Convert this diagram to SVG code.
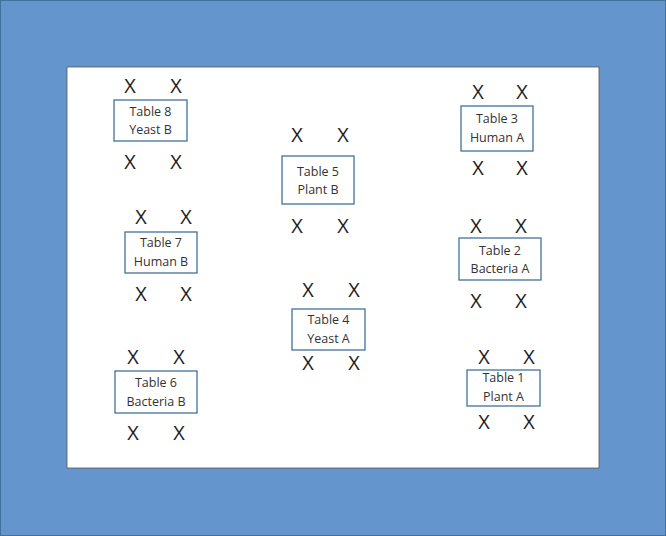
<svg xmlns="http://www.w3.org/2000/svg" width="666" height="536" viewBox="0 0 666 536">
<style>
.b{fill:#fff;stroke:#41719C;stroke-width:1.3}
.t{font-family:"Open Sans","Liberation Sans",sans-serif;font-size:12.5px;fill:#333;text-anchor:middle}
.x{font-family:"Open Sans","Liberation Sans",sans-serif;font-size:20px;fill:#222;text-anchor:middle}
</style>
<rect x="0.5" y="0.5" width="665" height="535" fill="#6495CD" stroke="#41719C"/>
<rect x="67" y="67" width="532" height="401" fill="#fff" stroke="#555" stroke-width="0.8"/>
<g id="table8"><rect class="b" x="114" y="100" width="73" height="41"/><text class="t" x="150.5" y="116">Table 8</text><text class="t" x="150.5" y="134">Yeast B</text>
<text class="x" x="130" y="93">X</text><text class="x" x="176" y="93">X</text><text class="x" x="130" y="169">X</text><text class="x" x="176" y="169">X</text></g>
<g id="table5"><rect class="b" x="282" y="156" width="72" height="48"/><text class="t" x="318" y="176">Table 5</text><text class="t" x="318" y="194">Plant B</text>
<text class="x" x="297" y="142">X</text><text class="x" x="343" y="142">X</text><text class="x" x="297" y="233">X</text><text class="x" x="343" y="233">X</text></g>
<g id="table3"><rect class="b" x="461" y="106" width="72" height="45"/><text class="t" x="497" y="123">Table 3</text><text class="t" x="497" y="142">Human A</text>
<text class="x" x="478" y="99">X</text><text class="x" x="522" y="99">X</text><text class="x" x="478" y="175">X</text><text class="x" x="522" y="175">X</text></g>
<g id="table7"><rect class="b" x="125" y="232" width="72" height="41"/><text class="t" x="161" y="247">Table 7</text><text class="t" x="161" y="266">Human B</text>
<text class="x" x="141" y="224">X</text><text class="x" x="186" y="224">X</text><text class="x" x="141" y="301">X</text><text class="x" x="186" y="301">X</text></g>
<g id="table2"><rect class="b" x="459" y="238" width="82" height="42"/><text class="t" x="500" y="255">Table 2</text><text class="t" x="500" y="273">Bacteria A</text>
<text class="x" x="476" y="233">X</text><text class="x" x="521" y="233">X</text><text class="x" x="476" y="308">X</text><text class="x" x="521" y="308">X</text></g>
<g id="table4"><rect class="b" x="292" y="309" width="73" height="41"/><text class="t" x="328.5" y="324">Table 4</text><text class="t" x="328.5" y="343">Yeast A</text>
<text class="x" x="308" y="297">X</text><text class="x" x="354" y="297">X</text><text class="x" x="308" y="370">X</text><text class="x" x="354" y="370">X</text></g>
<g id="table6"><rect class="b" x="115" y="371" width="82" height="42"/><text class="t" x="156" y="387">Table 6</text><text class="t" x="156" y="406">Bacteria B</text>
<text class="x" x="133" y="364">X</text><text class="x" x="179" y="364">X</text><text class="x" x="133" y="440">X</text><text class="x" x="179" y="440">X</text></g>
<g id="table1"><rect class="b" x="467" y="370" width="73" height="36"/><text class="t" x="503.5" y="382">Table 1</text><text class="t" x="503.5" y="401">Plant A</text>
<text class="x" x="484" y="364">X</text><text class="x" x="529" y="364">X</text><text class="x" x="484" y="429">X</text><text class="x" x="529" y="429">X</text></g>
<g id="connectors"/>
</svg>
